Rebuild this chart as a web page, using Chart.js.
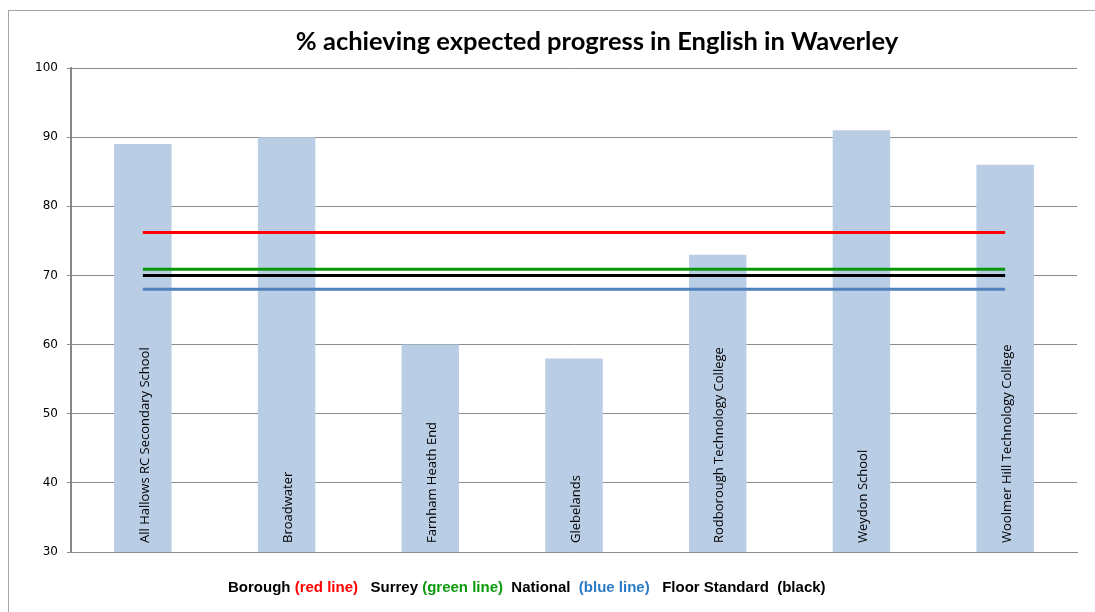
<!DOCTYPE html>
<html>
<head>
<meta charset="utf-8">
<script src="https://cdn.jsdelivr.net/npm/chart.js@4"></script>
<style>
  html, body { margin: 0; padding: 0; background: #fff; }
  #caja { width: 1095px; height: 612px; }
</style>
</head>
<body>
<div id="caja"><canvas id="grafico"></canvas></div>
<script>
/* Datos. */
const ESCUELAS = [
  'All Hallows RC Secondary School',
  'Broadwater',
  'Farnham Heath End',
  'Glebelands',
  'Rodborough Technology College',
  'Weydon School',
  'Woolmer Hill Technology College',
];
const PORCENTAJES = [89, 90, 60, 58, 73, 91, 86];

// Referencias horizontales: un valor por escuela para que la línea vaya
// del centro de la primera categoría al de la última.
const BOROUGH = 76.2;
const SURREY = 70.9;
const NACIONAL = 68;
const MINIMO = 70;

const TITULO = '% achieving expected progress in English in Waverley';

// Leyenda escrita a mano, como en el original: trozos de texto con su color.
const LEYENDA = [
  ['Borough ', '#000000'], ['(red line)', '#ff0000'],
  ['   Surrey ', '#000000'], ['(green line)', '#0a9a0a'],
  ['  National  ', '#000000'], ['(blue line)', '#2a7bc6'],
  ['   Floor Standard  (black)', '#000000'],
];

const repetir = (v) => ESCUELAS.map(() => v);

/* Marco, título, etiquetas dentro de las barras y leyenda. */
const adornos = {
  id: 'adornos',
  beforeDraw(chart) {
    const ctx = chart.ctx;
    ctx.save();
    ctx.strokeStyle = '#a6a6a6';
    ctx.lineWidth = 1;
    ctx.strokeRect(8.5, 10.5, 1400, 1400);
    ctx.restore();
  },
  afterDatasetsDraw(chart) {
    const ctx = chart.ctx;
    const x = chart.scales.x;
    const abajo = chart.chartArea.bottom;
    ctx.save();
    ctx.fillStyle = '#000';
    ctx.font = '13px "Open Sans"';
    ctx.textAlign = 'left';
    ctx.textBaseline = 'middle';
    ESCUELAS.forEach((nombre, i) => {
      ctx.save();
      ctx.translate(x.getPixelForValue(i) + 2, abajo - 9);
      ctx.rotate(-Math.PI / 2);
      ctx.fillText(nombre, 0, 0);
      ctx.restore();
    });
    ctx.restore();
  },
  afterDraw(chart) {
    const ctx = chart.ctx;
    ctx.save();
    ctx.fillStyle = '#000';
    ctx.font = 'bold 25.5px Lato';
    ctx.textAlign = 'center';
    ctx.textBaseline = 'middle';
    ctx.fillText(TITULO, 597, 42);

    ctx.font = 'bold 15px "Liberation Sans"';
    ctx.textAlign = 'left';
    let px = 228;
    LEYENDA.forEach(([txt, color]) => {
      ctx.fillStyle = color;
      ctx.fillText(txt, px, 588);
      px += ctx.measureText(txt).width;
    });
    ctx.restore();
  },
};

const linea = (datos, color) => ({
  type: 'line',
  data: repetir(datos),
  borderColor: color,
  borderWidth: 3,
  pointRadius: 0,
  order: 0,
});

new Chart(document.getElementById('grafico'), {
  data: {
    labels: ESCUELAS,
    datasets: [
      linea(BOROUGH, '#ff0000'),
      linea(SURREY, '#0a960a'),
      linea(MINIMO, '#000000'),
      linea(NACIONAL, '#4f81bd'),
      {
        type: 'bar',
        data: PORCENTAJES,
        backgroundColor: '#b9cde5',
        categoryPercentage: 1,
        barPercentage: 0.4,
        order: 1,
      },
    ],
  },
  options: {
    responsive: true,
    maintainAspectRatio: false,
    animation: false,
    layout: { padding: { top: 68, right: 18, bottom: 59, left: 0 } },
    plugins: { legend: { display: false }, tooltip: { enabled: false } },
    scales: {
      x: {
        ticks: { display: false },
        grid: { display: false },
        border: { color: '#8c8c8c', width: 1 },
        afterFit(s) { s.height = 1; },
      },
      y: {
        min: 30,
        max: 100,
        ticks: {
          stepSize: 10,
          color: '#000',
          padding: 9,
          font: { family: '"DejaVu Sans"', size: 12 },
        },
        grid: { color: '#8c8c8c', tickLength: 4 },
        border: { color: '#868686', width: 2 },
        afterFit(s) { s.width = 71; },
      },
    },
  },
  plugins: [adornos],
});
</script>
</body>
</html>
